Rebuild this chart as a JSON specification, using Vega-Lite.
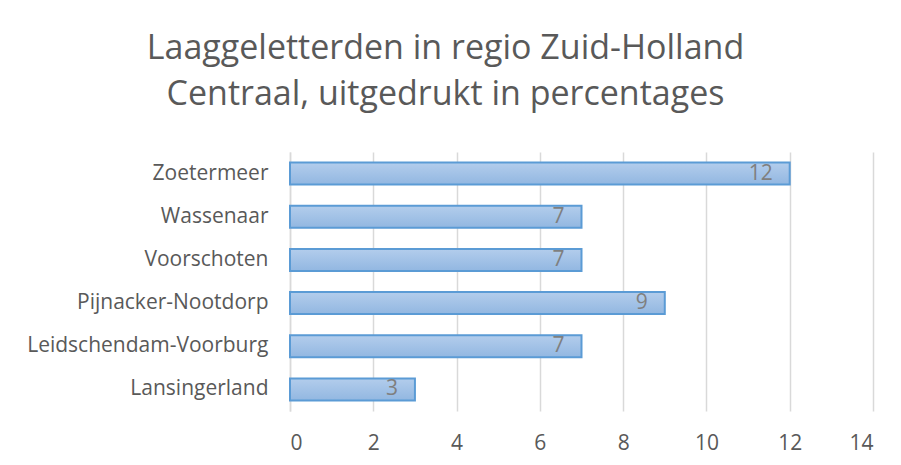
{
  "$schema": "https://vega.github.io/schema/vega-lite/v6.json",
  "autosize": {"type": "none"},
  "width": 583,
  "height": 259,
  "padding": {"left": 290, "top": 152, "right": 28, "bottom": 54},
  "background": "white",
  "config": {
    "view": {"stroke": null},
    "font": "Open Sans"
  },
  "title": {
    "text": ["Laaggeletterden in regio Zuid-Holland", "Centraal, uitgedrukt in percentages"],
    "anchor": "middle",
    "frame": "group",
    "dx": -136,
    "offset": 40,
    "fontSize": 34,
    "fontWeight": "normal",
    "font": "Open Sans",
    "color": "#595959",
    "lineHeight": 46
  },
  "data": {
    "values": [
      {"gemeente": "Zoetermeer", "pct": 12},
      {"gemeente": "Wassenaar", "pct": 7},
      {"gemeente": "Voorschoten", "pct": 7},
      {"gemeente": "Pijnacker-Nootdorp", "pct": 9},
      {"gemeente": "Leidschendam-Voorburg", "pct": 7},
      {"gemeente": "Lansingerland", "pct": 3}
    ]
  },
  "encoding": {
    "y": {
      "field": "gemeente",
      "type": "nominal",
      "sort": null,
      "scale": {"paddingInner": 0.49, "paddingOuter": 0.245},
      "axis": {
        "title": null,
        "ticks": false,
        "domain": true,
        "domainColor": "#d9d9d9",
        "domainWidth": 1.5,
        "labelFontSize": 21,
        "labelColor": "#595959",
        "labelPadding": 22,
        "labelLimit": 300,
        "labelFont": "Open Sans"
      }
    },
    "x": {
      "field": "pct",
      "type": "quantitative",
      "scale": {"domain": [0, 14], "nice": false},
      "axis": {
        "title": null,
        "values": [0, 2, 4, 6, 8, 10, 12, 14],
        "ticks": false,
        "domain": false,
        "grid": true,
        "gridColor": "#d9d9d9",
        "gridWidth": 1.5,
        "labelFontSize": 21,
        "labelColor": "#595959",
        "labelPadding": 21,
        "labelFont": "Open Sans"
      }
    }
  },
  "layer": [
    {
      "mark": {
        "type": "bar",
        "stroke": "#5b9bd5",
        "strokeWidth": 2,
        "color": {
          "gradient": "linear",
          "x1": 0, "y1": 0, "x2": 0, "y2": 1,
          "stops": [
            {"offset": 0, "color": "#b3cdec"},
            {"offset": 1, "color": "#92b7e1"}
          ]
        }
      }
    },
    {
      "mark": {
        "type": "text",
        "align": "right",
        "baseline": "middle",
        "dx": -17,
        "fontSize": 21,
        "color": "#7f7f7f",
        "font": "Open Sans"
      },
      "encoding": {"text": {"field": "pct", "type": "quantitative"}}
    }
  ]
}
